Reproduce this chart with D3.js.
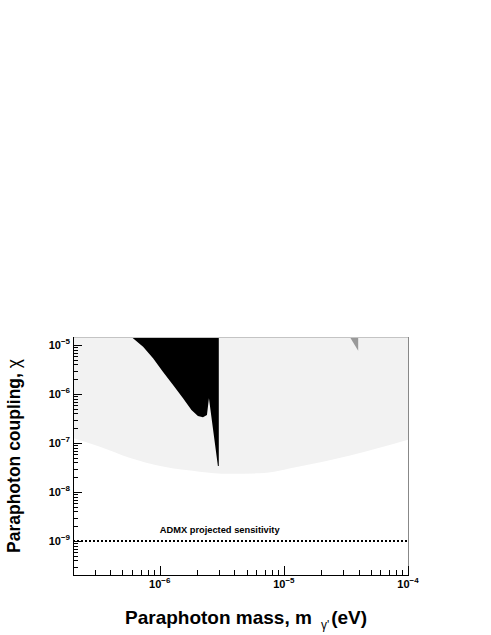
<!DOCTYPE html>
<html><head><meta charset="utf-8">
<script src="https://cdn.jsdelivr.net/npm/d3@7"></script>
<style>
body{margin:0;background:#fff}
text{font-family:"Liberation Sans",Arial,Helvetica,sans-serif}
</style>
</head><body>
<svg id="chart" width="491" height="635"></svg>
<script>
// ---- data ----
const massDomain = [2e-7, 1e-4];
const chiDomain = [2.02e-10, 1.456e-5];
const xTickValues = [1e-6, 1e-5, 1e-4];
const xTickExponents = ["\u22126", "\u22125", "\u22124"];
const yTickValues = [1e-9, 1e-8, 1e-7, 1e-6, 1e-5];
const yTickExponents = ["\u22129", "\u22128", "\u22127", "\u22126", "\u22125"];

// light-gray reach region (lower boundary)
const reachMass = [2e-7, 3.3e-7, 5.7e-7, 1.06e-6, 2.1e-6, 3.6e-6, 6.3e-6, 1.33e-5, 3.35e-5, 1e-4];
const reachChi  = [1.27e-7, 8.4e-8, 5.0e-8, 3.3e-8, 2.6e-8, 2.35e-8, 2.4e-8, 3.3e-8, 5.5e-8, 1.17e-7];

// black excluded region (boundary, top value = domain top)
const exclMass = [5.92e-7, 7.34e-7, 8.83e-7, 1.06e-6, 1.28e-6, 1.54e-6, 1.80e-6, 2.03e-6, 2.23e-6, 2.40e-6, 2.49e-6, 2.94e-6, 2.99e-6, 2.99e-6];
const exclChi  = [1.456e-5, 9.24e-6, 5.35e-6, 2.85e-6, 1.53e-6, 8.17e-7, 4.71e-7, 3.55e-7, 3.34e-7, 3.72e-7, 8.17e-7, 3.4e-8, 3.4e-8, 1.456e-5];

// gray triangle region
const triMass = [3.40e-5, 3.97e-5, 3.97e-5];
const triChi  = [1.456e-5, 1.456e-5, 7.65e-6];

const admxChi = 1e-9;
const admxLabel = "ADMX projected sensitivity";
const admxLabelPos = [1e-6, 1.45e-9];

// ---- layout ----
const L = 73, R = 408, T = 337, B = 575;
const svg = d3.select("#chart");
const x = d3.scaleLog().domain(massDomain).range([L, R]);
const y = d3.scaleLog().domain(chiDomain).range([B, T]);
const lineGen = d3.line().x(d => x(d[0])).y(d => y(d[1]));

// light gray area
const reach = reachMass.map((m, i) => [m, reachChi[i]]);
svg.append("path")
  .attr("fill", "#f2f2f2")
  .attr("d", d3.area().x(d => x(d[0])).y0(T).y1(d => y(d[1])).curve(d3.curveMonotoneX)(reach));

// black region
const excl = exclMass.map((m, i) => [m, exclChi[i]]);
svg.append("path")
  .attr("fill", "#000")
  .attr("d", lineGen(excl) + "Z");

// gray triangle
const tri = triMass.map((m, i) => [m, triChi[i]]);
svg.append("path")
  .attr("fill", "#999")
  .attr("d", lineGen(tri) + "Z");

// ADMX dotted line
svg.append("line")
  .attr("x1", L).attr("x2", R)
  .attr("y1", Math.round(y(admxChi))).attr("y2", Math.round(y(admxChi)))
  .attr("stroke", "#000").attr("stroke-width", 2)
  .attr("stroke-dasharray", "2,2");
svg.append("text")
  .attr("x", x(admxLabelPos[0])).attr("y", y(admxLabelPos[1]))
  .attr("font-size", 9.3).attr("font-weight", "bold")
  .text(admxLabel);

// frame top/right
svg.append("line").attr("x1", L).attr("x2", R).attr("y1", T + 0.5).attr("y2", T + 0.5)
  .attr("stroke", "#c4c4c4").attr("stroke-width", 1);
svg.append("line").attr("x1", R + 0.5).attr("x2", R + 0.5).attr("y1", T).attr("y2", B)
  .attr("stroke", "#888").attr("stroke-width", 1);

// axes
function logTicks(domain) {
  const out = [];
  for (let e = Math.floor(Math.log10(domain[0])); e <= Math.ceil(Math.log10(domain[1])); e++) {
    for (let k = 1; k <= 9; k++) {
      const v = k * Math.pow(10, e);
      if (v >= domain[0] * 0.999 && v <= domain[1] * 1.001) out.push({v, major: k === 1});
    }
  }
  return out;
}
const ax = svg.append("g");
ax.append("line").attr("x1", L).attr("x2", R + 1).attr("y1", B + 0.5).attr("y2", B + 0.5).attr("stroke", "#000");
ax.append("line").attr("x1", L + 0.5).attr("x2", L + 0.5).attr("y1", T).attr("y2", B + 1).attr("stroke", "#000");

logTicks(massDomain).forEach(t => {
  const px = Math.round(x(t.v)) + 0.5;
  ax.append("line").attr("x1", px).attr("x2", px).attr("y1", B).attr("y2", B - (t.major ? 9 : 5)).attr("stroke", "#000");
});
logTicks(chiDomain).forEach(t => {
  const py = Math.round(y(t.v)) + 0.5;
  ax.append("line").attr("x1", L).attr("x2", L + (t.major ? 9 : 5)).attr("y1", py).attr("y2", py).attr("stroke", "#000");
});

xTickValues.forEach((v, i) => {
  const t = ax.append("text").attr("x", x(v)).attr("y", 588).attr("text-anchor", "middle")
    .attr("font-size", 11).attr("font-weight", "bold");
  t.append("tspan").text("10");
  t.append("tspan").attr("dy", -5).attr("font-size", 8).text(xTickExponents[i]);
});
yTickValues.forEach((v, i) => {
  const t = ax.append("text").attr("x", 70).attr("y", y(v) + 4.5).attr("text-anchor", "end")
    .attr("font-size", 11).attr("font-weight", "bold");
  t.append("tspan").text("10");
  t.append("tspan").attr("dy", -5).attr("font-size", 8).text(yTickExponents[i]);
});

// axis titles
const xt = svg.append("text").attr("x", 125).attr("y", 624).attr("text-anchor", "start")
  .attr("font-size", 19).attr("font-weight", "bold");
xt.append("tspan").text("Paraphoton mass, m");
xt.append("tspan").attr("dx", 9).attr("dy", 5).attr("font-size", 12).attr("font-weight", "normal").text("\u03B3'");
xt.append("tspan").attr("dx", 2).attr("dy", -5).text("(eV)");

const yt = svg.append("text").attr("transform", "translate(20,456) rotate(-90)").attr("text-anchor", "middle")
  .attr("font-size", 17.5).attr("font-weight", "bold");
yt.append("tspan").text("Paraphoton coupling, ");
yt.append("tspan").attr("font-weight", "normal").text("\u03C7");
</script>
</body></html>
